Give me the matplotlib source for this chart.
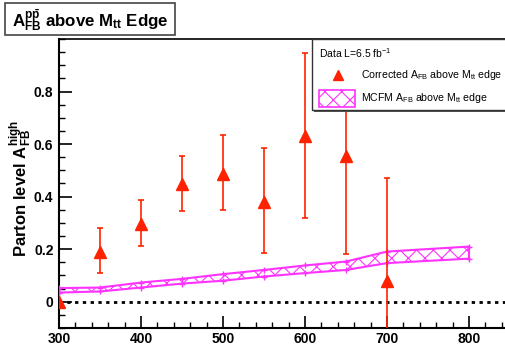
import matplotlib
matplotlib.use("Agg")
import matplotlib.pyplot as plt
from matplotlib.patches import Rectangle
from matplotlib.lines import Line2D
import numpy as np

plt.rcParams['font.family'] = ['Liberation Sans', 'DejaVu Sans']
plt.rcParams['mathtext.fontset'] = 'custom'
plt.rcParams['mathtext.rm'] = 'Liberation Sans'
plt.rcParams['mathtext.it'] = 'Liberation Sans'
plt.rcParams['mathtext.bf'] = 'Liberation Sans:bold'
plt.rcParams['hatch.linewidth'] = 0.8

# ---- data ----
mass_points = [300, 350, 400, 450, 500, 550, 600, 650, 700]
afb_values = [0.0, 0.19, 0.296, 0.447, 0.488, 0.38, 0.63, 0.555, 0.08]
err_up = [0.0, 0.09, 0.091, 0.108, 0.148, 0.204, 0.316, 0.375, 0.39]
err_down = [0.0, 0.08, 0.082, 0.10, 0.138, 0.193, 0.312, 0.373, 0.39]

mcfm_mass = [300, 350, 400, 450, 500, 550, 600, 650, 700, 800]
mcfm_upper = [0.052, 0.054, 0.073, 0.087, 0.105, 0.121, 0.138, 0.153, 0.191, 0.21]
mcfm_lower = [0.035, 0.039, 0.054, 0.069, 0.080, 0.096, 0.109, 0.121, 0.147, 0.164]

x_ticks = [300, 400, 500, 600, 700, 800]
y_ticks = [0, 0.2, 0.4, 0.6, 0.8]
y_tick_labels = ['0', '0.2', '0.4', '0.6', '0.8']

W, H = 506, 348
fig = plt.figure(figsize=(W / 100, H / 100), dpi=100)

def fx(px):
    return px / W

def fy(py):
    return 1 - py / H

ax_left, ax_right, ax_top, ax_bot = 59, 510, 39, 328
ax = fig.add_axes([fx(ax_left), fy(ax_bot), fx(ax_right) - fx(ax_left), fy(ax_top) - fy(ax_bot)])
ax.set_xlim(300, 850)
ax.set_ylim(-0.1, 1.0)

red = '#ff2200'
mag = '#ff33ff'

# MCFM band
ax.fill_between(mcfm_mass, mcfm_lower, mcfm_upper, facecolor='none', edgecolor=mag,
                hatch='xx', linewidth=0, zorder=2)
ax.plot(mcfm_mass, mcfm_upper, color=mag, lw=1.5, marker='+', ms=4, zorder=3)
ax.plot(mcfm_mass, mcfm_lower, color=mag, lw=1.5, marker='+', ms=4, zorder=3)
ax.plot([mcfm_mass[0], mcfm_mass[0]], [mcfm_lower[0], mcfm_upper[0]], color=mag, lw=1.5, zorder=3)
ax.plot([mcfm_mass[-1], mcfm_mass[-1]], [mcfm_lower[-1], mcfm_upper[-1]], color=mag, lw=1.5, zorder=3)

# zero line
ax.axhline(0, color='black', lw=2, ls=(0, (1.2, 1.6)), zorder=1)

# data
ax.errorbar(mass_points, afb_values, yerr=[err_down, err_up], fmt='^', color=red,
            ms=8, mec=red, mfc=red, elinewidth=1.2, capsize=2, capthick=1.2, zorder=4)

# axes style
for s in ['left', 'bottom']:
    ax.spines[s].set_linewidth(1.5)
ax.spines['top'].set_linewidth(1.2)
ax.spines['right'].set_visible(False)
ax.set_xticks(x_ticks)
ax.set_yticks(y_ticks)
ax.set_xticklabels([str(t) for t in x_ticks], fontweight='bold', fontsize=10)
ax.set_yticklabels(y_tick_labels, fontweight='bold', fontsize=10)
ax.set_xticks(np.arange(300, 851, 20), minor=True)
ax.set_yticks(np.arange(-0.1, 1.0001, 0.05), minor=True)
ax.tick_params(which='major', direction='in', length=9, width=1.2)
ax.tick_params(axis='y', which='major', pad=4)
ax.tick_params(axis='x', which='major', pad=3)
ax.tick_params(which='minor', direction='in', length=4.5, width=1.0)

fig.text(fx(21), fy(189), r'Parton level $\mathbf{A}_{\mathbf{FB}}^{\mathbf{high}}$', fontweight='bold',
         fontsize=12, rotation=90, ha='center', va='center')

# title box
fig.patches.append(Rectangle((fx(5), fy(35)), fx(175) - fx(5), fy(3) - fy(35),
                             transform=fig.transFigure, facecolor='white', edgecolor='#444444',
                             lw=1.2))
fig.text(fx(12), fy(20), r'$\mathbf{A}_{\mathbf{FB}}^{\mathbf{p\bar{p}}}$ above $\mathbf{M}_{\mathbf{tt}}$ Edge',
         fontsize=12.2, fontweight='bold', va='center', ha='left')

# legend box
lx0, lx1, ly0, ly1 = 312, 515, 39, 110
fig.patches.append(Rectangle((fx(lx0) + 0.003, fy(ly1) - 0.006), fx(lx1) - fx(lx0), fy(ly0) - fy(ly1),
                             transform=fig.transFigure, facecolor='#555555', edgecolor='none',
                             zorder=5))
fig.patches.append(Rectangle((fx(lx0), fy(ly1)), fx(lx1) - fx(lx0), fy(ly0) - fy(ly1),
                             transform=fig.transFigure, facecolor='white', edgecolor='#333333',
                             lw=1.0, zorder=6))
fig.text(fx(319), fy(53), r'Data L=6.5 fb$^{-1}$', fontsize=7.5, va='center', zorder=7)
fig.lines.append(Line2D([fx(338)], [fy(75)], marker='^', color=red, ms=7,
                        transform=fig.transFigure, zorder=7))
fig.text(fx(361), fy(75), r'Corrected A$_{\mathrm{FB}}$ above M$_{\mathrm{tt}}$ edge', fontsize=7.6,
         va='center', zorder=7)
fig.patches.append(Rectangle((fx(319), fy(107)), fx(355) - fx(319), fy(90) - fy(107),
                             transform=fig.transFigure, facecolor='white', edgecolor=mag,
                             hatch='xx', lw=1.2, zorder=7))
fig.text(fx(361), fy(98), r'MCFM A$_{\mathrm{FB}}$ above M$_{\mathrm{tt}}$ edge', fontsize=7.6,
         va='center', zorder=7)

fig.savefig('out.png', dpi=100)
